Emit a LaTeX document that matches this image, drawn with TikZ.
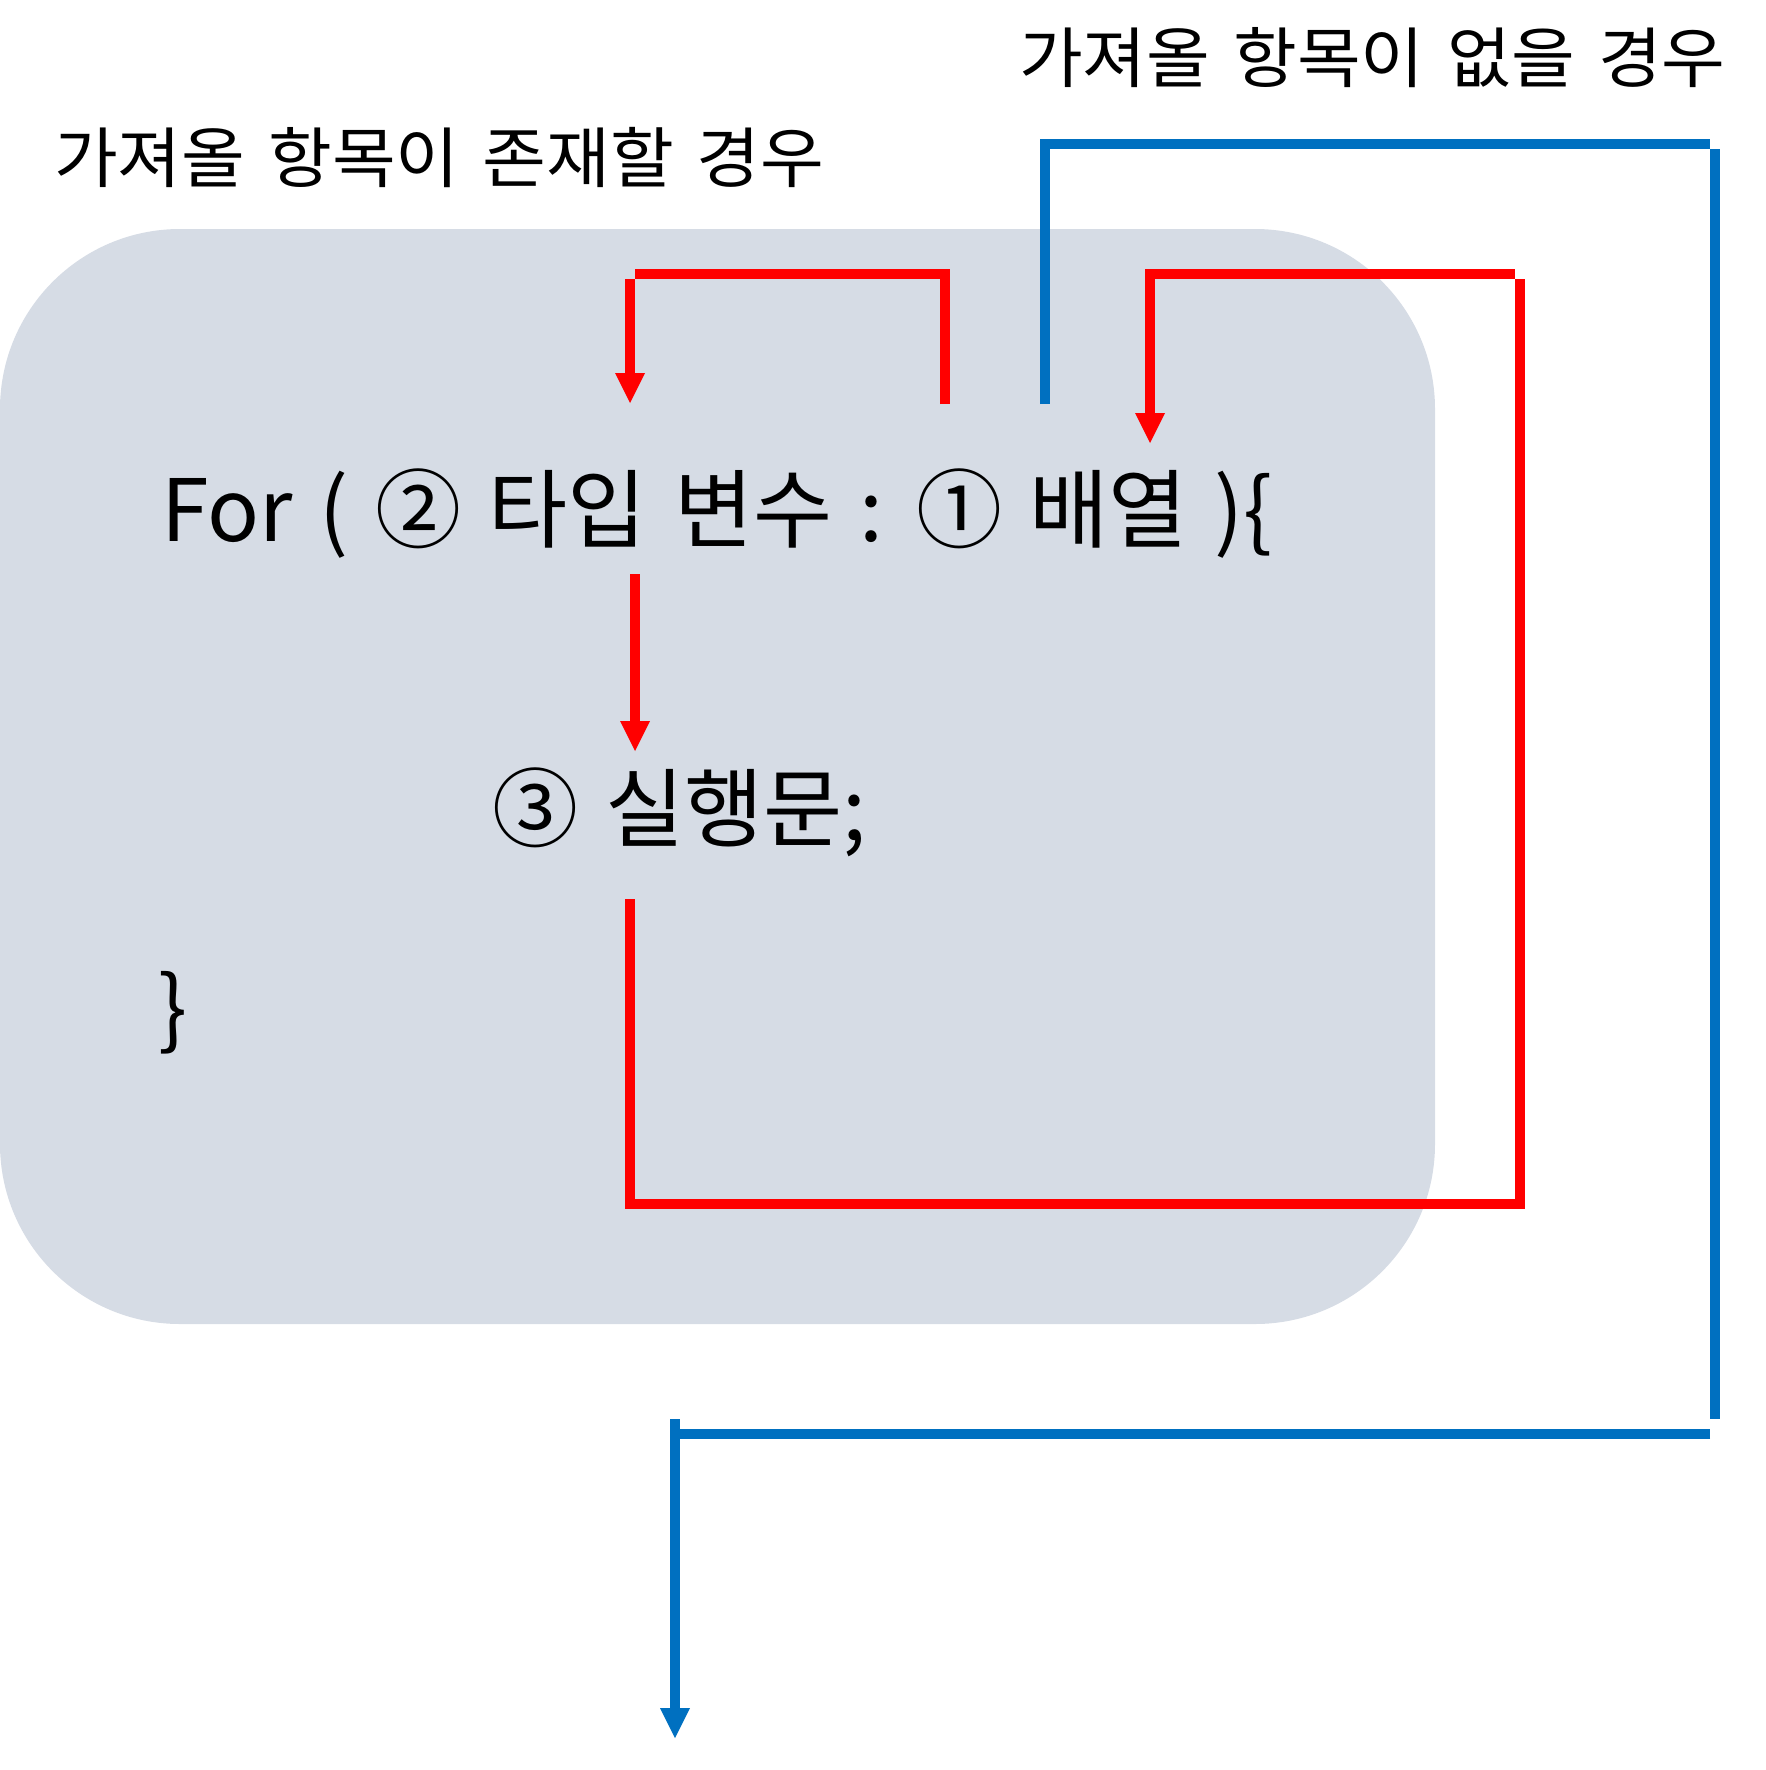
\documentclass[tikz,border=0pt]{standalone}
\usepackage{fontspec}
\setmainfont{Noto Sans CJK KR}
\newfontfamily\labelfont[FakeStretch=1.05]{Noto Sans CJK KR}
\newfontfamily\codefont[WordSpace=1.4]{Noto Sans CJK KR}
\newcommand\lblfontsetup{\labelfont\fontsize{66}{70}\selectfont\spaceskip 23pt\relax}
\usetikzlibrary{arrows.meta}
\definecolor{bgbox}{HTML}{D6DCE5}
\definecolor{redline}{HTML}{FF0000}
\definecolor{blueline}{HTML}{0070C0}
\tikzset{
  conn/.style={line width=10pt, line join=miter},
  redconn/.style={conn, draw=redline},
  blueconn/.style={conn, draw=blueline},
  headed/.style={-{Triangle[length=30pt,width=30pt,line width=0pt]}},
  lbl/.style={inner sep=0pt, anchor=base west, font=\lblfontsetup},
  code/.style={inner sep=0pt, anchor=base west, font=\codefont\fontsize{86}{94}\selectfont},
}
\begin{document}
\begin{tikzpicture}[x=1pt,y=-1pt]
\useasboundingbox (0,0) rectangle (1766,1770);
\fill[bgbox, rounded corners=180pt] (0,229) rectangle (1435,1324);

\node[lbl] (none) at (1019,82) {가져올 항목이 없을 경우};
\node[lbl] (exist) at (54,182) {가져올 항목이 존재할 경우};
\node[code] (head) at (161,541) {For ( ② 타입 변수 : ① 배열 )\{};
\node[code] (body) at (492,840) {③ 실행문;};
\node[code] (close) at (158,1039) {\}};

% red: variable -> type (top left)
\coordinate (a1) at (945,404);
\coordinate (a2) at (945,274);
\coordinate (a3) at (635,274);
\coordinate (a4) at (630,279);
\coordinate (a5) at (630,403);
\draw[redconn] (a1) -- (a2) -- (a3);
\draw[redconn, headed] (a4) -- (a5);

% red: head -> body
\coordinate (b1) at (635,574);
\coordinate (b2) at (635,751);
\draw[redconn, headed] (b1) -- (b2);

% red: body -> array (loop back)
\coordinate (c1) at (630,899);
\coordinate (c2) at (630,1204);
\coordinate (c3) at (1520,1204);
\coordinate (c4) at (1520,279);
\coordinate (c5) at (1515,274);
\coordinate (c6) at (1150,274);
\coordinate (c7) at (1150,443);
\draw[redconn] (c1) -- (c2) -- (c3) -- (c4);
\draw[redconn, headed] (c5) -- (c6) -- (c7);

% blue: no more items -> exit
\coordinate (d1) at (1045,404);
\coordinate (d2) at (1045,144);
\coordinate (d3) at (1710,144);
\coordinate (d4) at (1715,149);
\coordinate (d5) at (1715,1419);
\coordinate (d6) at (1710,1434);
\coordinate (d7) at (680,1434);
\coordinate (d8) at (675,1419);
\coordinate (d9) at (675,1738);
\draw[blueconn] (d1) -- (d2) -- (d3);
\draw[blueconn] (d4) -- (d5);
\draw[blueconn] (d6) -- (d7);
\draw[blueconn, headed] (d8) -- (d9);
\end{tikzpicture}
\end{document}
